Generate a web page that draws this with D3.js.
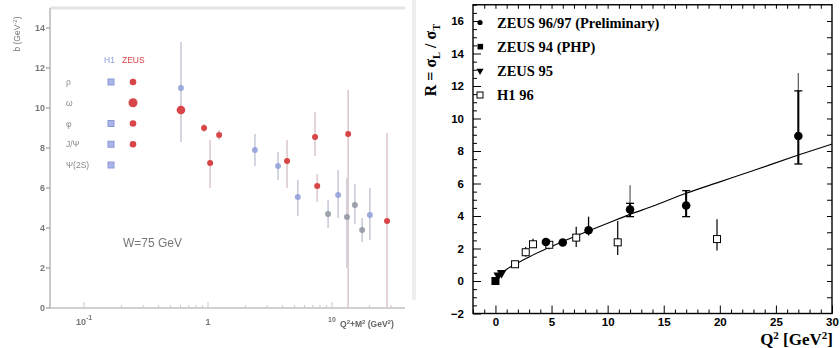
<!DOCTYPE html>
<html>
<head>
<meta charset="utf-8">
<script src="https://cdn.jsdelivr.net/npm/d3@7"></script>
<style>
  body { margin: 0; background: #fff; }
  svg { display: block; }
</style>
</head>
<body>
<svg id="chart" width="840" height="348"></svg>
<script>
// ---- left panel: b slope vs Q2+M2 (faded scan) ----
const leftYTicks = [0, 2, 4, 6, 8, 10, 12, 14];
const leftXTicks = [0.1, 1, 10];
const mesonNames = ["ρ", "ω", "φ", "J/Ψ", "Ψ(2S)"];
const h1HasMeson = [true, false, true, true, true];
const zeusHasMeson = [true, true, true, true, false];
const leftQ2M2 = [0.605, 0.605, 0.93, 1.04, 1.23, 2.39, 3.67, 4.34, 7.3, 7.6, 5.3, 9.3, 11.2, 13.2, 13.5, 15.3, 17.5, 20.2, 27.8];
const leftB = [11.0, 9.9, 9.0, 7.25, 8.65, 7.9, 7.1, 7.35, 8.55, 6.1, 5.55, 4.7, 5.65, 4.55, 8.7, 5.15, 3.9, 4.65, 4.35];
const leftBLo = [8.3, 9.5, 8.8, 6.0, 8.4, 7.1, 6.4, 6.0, 7.6, 5.3, 4.6, 4.0, 4.5, 2.0, 0, 4.2, 3.3, 3.4, 0];
const leftBHi = [13.3, 10.3, 9.2, 8.4, 8.9, 8.7, 7.8, 8.4, 9.8, 6.7, 6.4, 5.4, 6.9, 6.5, 10.9, 6.2, 4.5, 6.0, 8.75];
const leftExp = ["H1", "ZEUS", "ZEUS", "ZEUS", "ZEUS", "H1", "H1", "ZEUS", "ZEUS", "ZEUS", "H1", "other", "H1", "other", "ZEUS", "other", "other", "H1", "ZEUS"];

// ---- right panel: R = sigma_L / sigma_T vs Q2 ----
const rYMajor = [-2, 0, 2, 4, 6, 8, 10, 12, 14, 16];
const rXMajor = [0, 5, 10, 15, 20, 25, 30];
const legendLabels = ["ZEUS 96/97 (Preliminary)", "ZEUS 94 (PHP)", "ZEUS 95", "H1 96"];
const zeus9697Q2 = [4.5, 6.0, 8.3, 12.0, 17.0, 27.0];
const zeus9697R = [2.4, 2.37, 3.12, 4.4, 4.65, 8.92];
const zeus9697Lo = [2.2, 2.25, 2.8, 3.96, 3.96, 7.2];
const zeus9697Hi = [2.6, 2.5, 3.96, 5.9, 5.56, 12.8];
const zeus9697CapLo = [null, null, null, 3.96, 3.96, 7.2];
const zeus9697CapHi = [null, null, null, 4.78, 5.56, 11.7];
const zeus94Q2 = [0];
const zeus94R = [0];
const zeus95Q2 = [0.25, 0.55];
const zeus95R = [0.35, 0.5];
const h1Q2 = [1.75, 2.7, 3.35, 4.8, 7.2, 10.9, 19.75];
const h1R = [1.03, 1.77, 2.26, 2.23, 2.67, 2.38, 2.58];
const h1Lo = [1.0, 1.5, 2.05, 1.95, 2.1, 1.6, 1.87];
const h1Hi = [1.1, 2.1, 2.6, 2.55, 3.34, 3.69, 3.8];
const curveQ2 = [0.3, 1, 2, 3, 4, 5, 6, 8, 10, 12, 14, 17, 20, 23, 27, 30];
const curveR = [0.37, 0.72, 1.12, 1.48, 1.82, 2.13, 2.43, 3.0, 3.55, 4.1, 4.6, 5.4, 6.1, 6.8, 7.75, 8.43];

const svg = d3.select("#chart");
const sans = "'Liberation Sans', Arial, sans-serif";
const serif = "'Liberation Serif', 'Times New Roman', serif";

// ================= left panel =================
svg.append("defs").append("filter").attr("id", "soft")
  .append("feGaussianBlur").attr("stdDeviation", 0.75);
const L = svg.append("g").attr("filter", "url(#soft)");
const lx = d3.scaleLog().domain([0.1, 10]).range([84, 332]);
const ly = d3.scaleLinear().domain([0, 15]).range([308, 8]);
const lxLeft = 50, lxRight = 405;
const expColor = { H1: "#8c9ad8", ZEUS: "#d8454a", other: "#8a8f9c" };

// frame lines (faint)
L.append("line").attr("x1", lxLeft).attr("x2", lxRight).attr("y1", 8).attr("y2", 8).attr("stroke", "#e4e4e4").attr("stroke-width", 3);
L.append("line").attr("x1", lxLeft).attr("x2", lxLeft).attr("y1", 8).attr("y2", ly(0)).attr("stroke", "#b9b9b9").attr("stroke-width", 1.5);
L.append("line").attr("x1", lxLeft).attr("x2", lxRight).attr("y1", ly(0)).attr("y2", ly(0)).attr("stroke", "#c2c2c2").attr("stroke-width", 1.5);
L.append("line").attr("x1", 414).attr("x2", 414).attr("y1", 0).attr("y2", 300).attr("stroke", "#eeeeee").attr("stroke-width", 4);

// y ticks + labels
const lyAxis = L.append("g");
lyAxis.selectAll("line").data(leftYTicks).join("line")
  .attr("x1", lxLeft - 4).attr("x2", lxLeft).attr("y1", (d) => ly(d)).attr("y2", (d) => ly(d))
  .attr("stroke", "#999").attr("stroke-width", 1.2);
lyAxis.selectAll("text").data(leftYTicks).join("text")
  .attr("x", lxLeft - 5).attr("y", (d) => ly(d) + 3).attr("text-anchor", "end")
  .attr("font-family", sans).attr("font-weight", "bold").attr("font-size", 9).attr("fill", "#777")
  .text((d) => d);

// x minor ticks
const lMinor = [];
for (const dec of [0.1, 1, 10]) for (let k = 1; k < 10; k++) if (dec * k < 38) lMinor.push(dec * k);
L.append("g").selectAll("line").data(lMinor).join("line")
  .attr("x1", (d) => lx(d)).attr("x2", (d) => lx(d))
  .attr("y1", ly(0)).attr("y2", (d) => ly(0) - (leftXTicks.includes(d) ? 6 : 3))
  .attr("stroke", "#c8c8c8").attr("stroke-width", 1);
const lxLab = L.append("g").attr("font-family", sans).attr("font-weight", "bold").attr("fill", "#777");
lxLab.append("text").attr("x", lx(0.1)).attr("y", 325).attr("text-anchor", "middle").attr("font-size", 9)
  .text("10").append("tspan").attr("dy", -5).attr("font-size", 7).text("-1");
lxLab.append("text").attr("x", lx(1)).attr("y", 325).attr("text-anchor", "middle").attr("font-size", 9).text("1");
lxLab.append("text").attr("x", lx(10)).attr("y", 322).attr("text-anchor", "middle").attr("font-size", 7).text("10");
const lxt = lxLab.append("text").attr("x", 340).attr("y", 327).attr("font-size", 8.5).attr("fill", "#666");
lxt.append("tspan").text("Q");
lxt.append("tspan").attr("dy", -3).attr("font-size", 6).text("2");
lxt.append("tspan").attr("dy", 3).text("+M");
lxt.append("tspan").attr("dy", -3).attr("font-size", 6).text("2");
lxt.append("tspan").attr("dy", 3).text(" (GeV");
lxt.append("tspan").attr("dy", -3).attr("font-size", 6).text("2");
lxt.append("tspan").attr("dy", 3).text(")");

// y title
const lyt = L.append("text").attr("transform", "translate(20,34) rotate(-90)").attr("text-anchor", "middle")
  .attr("font-family", sans).attr("font-size", 8.5).attr("fill", "#777");
lyt.append("tspan").text("b (GeV");
lyt.append("tspan").attr("dy", -3).attr("font-size", 6).text("-2");
lyt.append("tspan").attr("dy", 3).text(")");

// legend
const legY = d3.scalePoint().domain(mesonNames).range([82, 165]);
L.append("text").attr("x", 104).attr("y", 63).attr("font-family", sans).attr("font-size", 8.5).attr("fill", expColor.H1).text("H1");
L.append("text").attr("x", 122).attr("y", 63).attr("font-family", sans).attr("font-size", 8.5).attr("fill", expColor.ZEUS).text("ZEUS");
L.append("g").selectAll("text").data(mesonNames).join("text")
  .attr("x", 66).attr("y", (d) => legY(d) + 3).attr("font-family", sans).attr("font-size", 8.5).attr("fill", "#888")
  .text((d) => d);
L.append("g").selectAll("rect").data(mesonNames.filter((_, i) => h1HasMeson[i])).join("rect")
  .attr("x", (d) => 111 - 3).attr("y", (d) => legY(d) - 3).attr("width", 6).attr("height", 6)
  .attr("fill", "#aab4e6").attr("stroke", "#8c9ad8");
L.append("g").selectAll("circle").data(mesonNames.filter((_, i) => zeusHasMeson[i])).join("circle")
  .attr("cx", 133).attr("cy", (d) => legY(d)).attr("r", (d) => (d === "ω" ? 4.5 : 3.3))
  .attr("fill", expColor.ZEUS);
L.append("text").attr("x", 123).attr("y", 247).attr("font-family", sans).attr("font-size", 12).attr("fill", "#777").text("W=75 GeV");

// points
const lpts = leftQ2M2.map((x, i) => ({ x, b: leftB[i], lo: leftBLo[i], hi: leftBHi[i], exp: leftExp[i], big: i === 1 }));
L.append("g").selectAll("line").data(lpts).join("line")
  .attr("x1", (d) => lx(d.x)).attr("x2", (d) => lx(d.x)).attr("y1", (d) => ly(d.lo)).attr("y2", (d) => ly(d.hi))
  .attr("stroke", (d) => (d.exp === "ZEUS" ? "#dccace" : "#c8ccda")).attr("stroke-width", 1.6);
L.append("g").selectAll("circle").data(lpts).join("circle")
  .attr("cx", (d) => lx(d.x)).attr("cy", (d) => ly(d.b)).attr("r", (d) => (d.big ? 4.3 : 3))
  .attr("fill", (d) => expColor[d.exp]).attr("opacity", (d) => (d.exp === "ZEUS" ? 1 : 0.8));

// ================= right panel =================
const R = svg.append("g");
const x = d3.scaleLinear().domain([-2, 30]).range([473, 832]);
const y = d3.scaleLinear().domain([-2, 17]).range([313.5, 4.75]);
const range = (a, b, s) => d3.range(a, b + s / 2, s);

// ticks (all pointing inward)
const tickStyle = (g) => {
  g.select(".domain").remove();
  g.selectAll("line").attr("stroke", "#000").attr("stroke-width", 1);
  g.selectAll("text").attr("font-family", sans).attr("font-weight", "bold").attr("font-size", 11.5).attr("fill", "#000");
};
R.append("g").attr("transform", `translate(${x(-2)},0)`)
  .call(d3.axisLeft(y).tickValues(range(-2, 17, 0.5).filter((v) => v % 2 !== 0)).tickSize(-4).tickFormat(""))
  .call(tickStyle);
R.append("g").attr("transform", `translate(${x(-2)},0)`)
  .call(d3.axisLeft(y).tickValues(rYMajor).tickSize(-8).tickPadding(9).tickFormat((d) => (d < 0 ? "\u2212" + -d : d)))
  .call(tickStyle);
R.append("g").attr("transform", `translate(0,${y(-2)})`)
  .call(d3.axisBottom(x).tickValues(range(-2, 30, 1).filter((v) => v % 5 !== 0)).tickSize(-4).tickFormat(""))
  .call(tickStyle);
R.append("g").attr("transform", `translate(0,${y(-2)})`)
  .call(d3.axisBottom(x).tickValues(rXMajor).tickSize(-8).tickPadding(4))
  .call(tickStyle);
R.append("g").attr("transform", `translate(0,${y(17)})`)
  .call(d3.axisTop(x).tickValues(range(-1, 29, 1)).tickSize(-4).tickFormat(""))
  .call(tickStyle);
R.append("g").attr("transform", `translate(${x(30)},0)`)
  .call(d3.axisRight(y).tickValues(range(-1, 16, 1)).tickSize(-5).tickFormat(""))
  .call(tickStyle);

// frame
R.append("rect").attr("x", x(-2)).attr("y", y(17)).attr("width", x(30) - x(-2)).attr("height", y(-2) - y(17))
  .attr("fill", "none").attr("stroke", "#000").attr("stroke-width", 1.4);

// axis titles
const yt = R.append("text").attr("transform", `translate(436,60) rotate(-90)`).attr("text-anchor", "middle")
  .attr("font-family", serif).attr("font-weight", "bold").attr("font-size", 16);
yt.append("tspan").text("R = σ");
yt.append("tspan").attr("dy", 4).attr("font-size", 10.5).text("L");
yt.append("tspan").attr("dy", -4).text(" / σ");
yt.append("tspan").attr("dy", 4).attr("font-size", 10.5).text("T");
const xt = R.append("text").attr("x", 833).attr("y", 345).attr("text-anchor", "end")
  .attr("font-family", serif).attr("font-weight", "bold").attr("font-size", 17);
xt.append("tspan").text("Q");
xt.append("tspan").attr("dy", -6).attr("font-size", 11).text("2");
xt.append("tspan").attr("dy", 6).text(" [GeV");
xt.append("tspan").attr("dy", -6).attr("font-size", 11).text("2");
xt.append("tspan").attr("dy", 6).text("]");

// fit curve
R.append("path").datum(curveQ2.map((q, i) => [q, curveR[i]]))
  .attr("fill", "none").attr("stroke", "#000").attr("stroke-width", 1.1)
  .attr("d", d3.line().x((d) => x(d[0])).y((d) => y(d[1])).curve(d3.curveMonotoneX));

// H1 96 open squares with error bars
const h1 = h1Q2.map((q, i) => ({ q, r: h1R[i], lo: h1Lo[i], hi: h1Hi[i] }));
R.append("g").selectAll("line").data(h1).join("line")
  .attr("x1", (d) => x(d.q)).attr("x2", (d) => x(d.q)).attr("y1", (d) => y(d.lo)).attr("y2", (d) => y(d.hi))
  .attr("stroke", "#000").attr("stroke-width", 1.2);
R.append("g").selectAll("rect").data(h1).join("rect")
  .attr("x", (d) => x(d.q) - 3.5).attr("y", (d) => y(d.r) - 3.5).attr("width", 7).attr("height", 7)
  .attr("fill", "#fff").attr("stroke", "#000").attr("stroke-width", 1);

// ZEUS 96/97 circles with error bars
const z = zeus9697Q2.map((q, i) => ({ q, r: zeus9697R[i], lo: zeus9697Lo[i], hi: zeus9697Hi[i], clo: zeus9697CapLo[i], chi: zeus9697CapHi[i] }));
const zg = R.append("g");
zg.selectAll("line.outer").data(z).join("line").attr("class", "outer")
  .attr("x1", (d) => x(d.q)).attr("x2", (d) => x(d.q)).attr("y1", (d) => y(d.lo)).attr("y2", (d) => y(d.hi))
  .attr("stroke", (d) => (d.chi !== null && d.hi > d.chi ? "#666" : "#000")).attr("stroke-width", 1.3);
zg.selectAll("line.inner").data(z.filter((d) => d.chi !== null)).join("line").attr("class", "inner")
  .attr("x1", (d) => x(d.q)).attr("x2", (d) => x(d.q)).attr("y1", (d) => y(d.clo)).attr("y2", (d) => y(d.chi))
  .attr("stroke", "#000").attr("stroke-width", 2);
const caps = z.filter((d) => d.chi !== null).flatMap((d) => [[d.q, d.clo], [d.q, d.chi]]);
zg.selectAll("line.cap").data(caps).join("line").attr("class", "cap")
  .attr("x1", (d) => x(d[0]) - 4).attr("x2", (d) => x(d[0]) + 4).attr("y1", (d) => y(d[1])).attr("y2", (d) => y(d[1]))
  .attr("stroke", "#000").attr("stroke-width", 1.3);
zg.selectAll("circle").data(z).join("circle")
  .attr("cx", (d) => x(d.q)).attr("cy", (d) => y(d.r)).attr("r", 4.3).attr("fill", "#000");

// ZEUS 94 filled square, ZEUS 95 down triangles
R.append("g").selectAll("rect").data(zeus94Q2.map((q, i) => [q, zeus94R[i]])).join("rect")
  .attr("x", (d) => x(d[0]) - 4).attr("y", (d) => y(d[1]) - 4).attr("width", 8).attr("height", 8).attr("fill", "#000");
R.append("g").selectAll("path").data(zeus95Q2.map((q, i) => [q, zeus95R[i]])).join("path")
  .attr("transform", (d) => `translate(${x(d[0])},${y(d[1])}) rotate(180)`)
  .attr("d", d3.symbol(d3.symbolTriangle, 40)).attr("fill", "#000");

// legend
const lgY = d3.scalePoint().domain(legendLabels).range([22.5, 95]);
const lg = R.append("g");
lg.selectAll("text").data(legendLabels).join("text")
  .attr("x", 497).attr("y", (d) => lgY(d) + 5).attr("font-family", serif).attr("font-weight", "bold").attr("font-size", 14.5)
  .text((d) => d);
lg.append("circle").attr("cx", 480).attr("cy", lgY(legendLabels[0])).attr("r", 2.6).attr("fill", "#000");
lg.append("rect").attr("x", 477.5).attr("y", lgY(legendLabels[1]) - 2.8).attr("width", 5.6).attr("height", 5.6).attr("fill", "#000");
lg.append("path").attr("transform", `translate(480,${lgY(legendLabels[2])}) rotate(180)`)
  .attr("d", d3.symbol(d3.symbolTriangle, 22)).attr("fill", "#000");
lg.append("rect").attr("x", 477).attr("y", lgY(legendLabels[3]) - 3).attr("width", 6).attr("height", 6)
  .attr("fill", "#fff").attr("stroke", "#000").attr("stroke-width", 1);
</script>
</body>
</html>
